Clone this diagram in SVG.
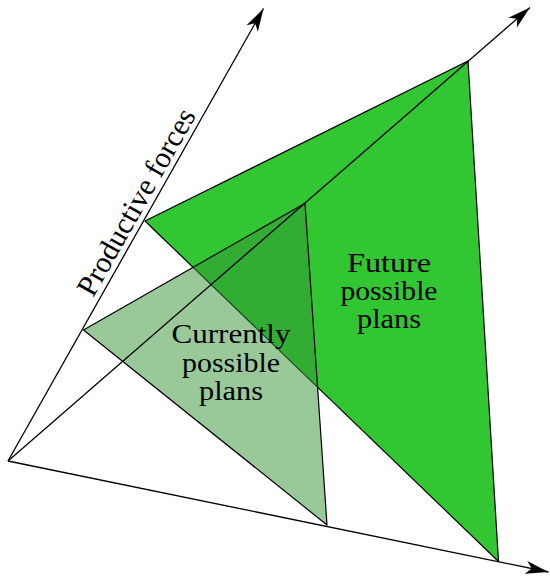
<svg xmlns="http://www.w3.org/2000/svg" width="550" height="576" viewBox="0 0 550 576">
  <style>
    .ax { stroke: #000; stroke-width: 1.3; fill: none; }
    .tri { stroke: #000; stroke-width: 1.2; stroke-linejoin: round; }
    .lbl { font-family: "Liberation Serif", "DejaVu Serif", serif; font-size: 28px; fill: #000; text-anchor: middle; }
    .axl { font-size: 30px; }
  </style>
  <defs>
    <marker id="arr" viewBox="-24 -8 26 16" refX="0" refY="0" markerWidth="26" markerHeight="16" markerUnits="userSpaceOnUse" orient="auto">
      <path d="M0,0 L-23,-6.5 L-17,0 L-23,6.5 Z" fill="#000"/>
    </marker>
  </defs>
  <rect width="550" height="576" fill="#fff"/>

  <g id="future-plans">
    <polygon class="tri" points="145,221 468,61 498.5,561.5" fill="#33c633"/>
    <text class="lbl" x="389" y="271.7" textLength="84" lengthAdjust="spacingAndGlyphs">Future</text>
    <text class="lbl" x="389" y="300" textLength="97" lengthAdjust="spacingAndGlyphs">possible</text>
    <text class="lbl" x="389" y="328.3" textLength="64" lengthAdjust="spacingAndGlyphs">plans</text>
  </g>

  <g id="current-plans">
    <polygon class="tri" points="83.5,330 305,203.3 327,525" fill="#339133" fill-opacity="0.5"/>
    <text class="lbl" x="231" y="342.5" textLength="119" lengthAdjust="spacingAndGlyphs">Currently</text>
    <text class="lbl" x="231" y="371.5" textLength="98" lengthAdjust="spacingAndGlyphs">possible</text>
    <text class="lbl" x="231" y="400.3" textLength="64" lengthAdjust="spacingAndGlyphs">plans</text>
  </g>

  <g id="connectors">
    <line class="ax" x1="8" y1="461" x2="263.5" y2="8.5" marker-end="url(#arr)"/>
    <line class="ax" x1="8" y1="461" x2="530" y2="7.5" marker-end="url(#arr)"/>
    <line class="ax" x1="8" y1="461" x2="548.5" y2="572" marker-end="url(#arr)"/>
  </g>

  <g id="axis-label">
    <text class="lbl axl" transform="translate(144.8,206.8) rotate(-60.5)" x="0" y="0" textLength="210" lengthAdjust="spacingAndGlyphs">Productive forces</text>
  </g>
</svg>
